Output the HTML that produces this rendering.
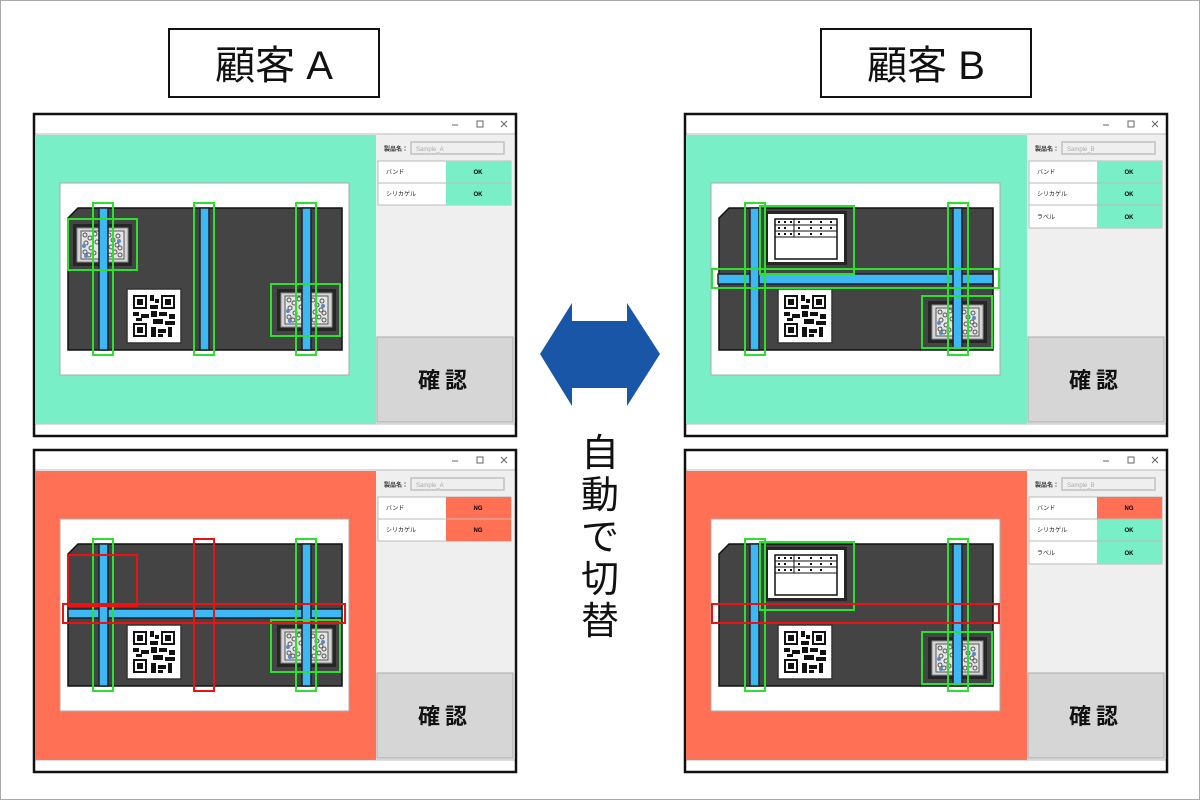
<!DOCTYPE html>
<html><head><meta charset="utf-8">
<style>
html,body{margin:0;padding:0;background:#fff;}
svg{display:block;}
text{font-family:"Liberation Sans","Noto Sans CJK JP",sans-serif;}
</style></head>
<body>
<svg width="1200" height="800" viewBox="0 0 1200 800" xmlns="http://www.w3.org/2000/svg">
<defs>
  <g id="packet">
    <rect x="0" y="0" width="59" height="42" fill="#262626"/>
    <rect x="4" y="4" width="51" height="34" fill="#d6d6d6" stroke="#888" stroke-width="1"/>
    <rect x="8" y="7" width="43" height="28" fill="#e6e6e6" stroke="#555" stroke-width="1"/>
    <g fill="none" stroke="#555" stroke-width="1">
      <circle cx="12" cy="11" r="2"/><circle cx="17" cy="14" r="2"/><circle cx="13" cy="19" r="2"/><circle cx="18" cy="24" r="2"/><circle cx="12" cy="28" r="2"/><circle cx="16" cy="31" r="2"/>
      <circle cx="22" cy="10" r="2"/><circle cx="24" cy="18" r="2"/><circle cx="21" cy="29" r="2"/>
      <circle cx="36" cy="11" r="2"/><circle cx="40" cy="16" r="2"/><circle cx="45" cy="12" r="2"/><circle cx="38" cy="23" r="2"/><circle cx="44" cy="21" r="2"/><circle cx="42" cy="28" r="2"/><circle cx="47" cy="31" r="2"/><circle cx="37" cy="31" r="2"/><circle cx="47" cy="24" r="2"/>
    </g>
    <circle cx="11" cy="22" r="2" fill="#5a8ac8"/><circle cx="46" cy="17" r="2" fill="#5a8ac8"/><circle cx="13" cy="32" r="2" fill="#5a8ac8"/>
  </g>
  <g id="qr">
    <rect x="0" y="0" width="54" height="54" fill="#fff" stroke="#333" stroke-width="1.5"/>
    <g fill="#111">
      <rect x="6" y="6" width="14" height="14"/><rect x="34" y="6" width="14" height="14"/><rect x="6" y="34" width="14" height="14"/>
      <rect x="23" y="6" width="4" height="6"/><rect x="28" y="10" width="4" height="4"/><rect x="23" y="16" width="8" height="4"/>
      <rect x="6" y="23" width="6" height="4"/><rect x="14" y="25" width="8" height="4"/><rect x="24" y="22" width="6" height="6"/><rect x="32" y="23" width="8" height="4"/><rect x="42" y="25" width="6" height="5"/>
      <rect x="9" y="29" width="6" height="3"/><rect x="26" y="30" width="10" height="5"/><rect x="38" y="32" width="10" height="4"/>
      <rect x="24" y="38" width="5" height="10"/><rect x="31" y="40" width="8" height="4"/><rect x="41" y="38" width="4" height="10"/><rect x="31" y="45" width="5" height="3"/>
    </g>
    <g fill="#fff"><rect x="8" y="8" width="10" height="10"/><rect x="36" y="8" width="10" height="10"/><rect x="8" y="36" width="10" height="10"/></g>
    <g fill="#111"><rect x="10" y="10" width="6" height="6"/><rect x="38" y="10" width="6" height="6"/><rect x="10" y="38" width="6" height="6"/></g>
  </g>
  <g id="label">
    <rect x="0" y="0" width="82" height="54" fill="#262626"/>
    <rect x="3" y="3" width="76" height="48" fill="#fff"/>
    <rect x="10" y="8" width="62" height="40" fill="#fff" stroke="#111" stroke-width="1.5"/>
    <g stroke="#111" stroke-width="1"><line x1="10" y1="14" x2="72" y2="14"/><line x1="10" y1="20" x2="72" y2="20"/><line x1="10" y1="26" x2="72" y2="26"/><line x1="29" y1="8" x2="29" y2="26"/></g>
    <g fill="#111"><rect x="13" y="10" width="2" height="2"/><rect x="19" y="10" width="2" height="2"/><rect x="25" y="10" width="2" height="2"/><rect x="33" y="10" width="2" height="2"/><rect x="45" y="10" width="2" height="2"/><rect x="55" y="10" width="2" height="2"/><rect x="65" y="10" width="2" height="2"/>
    <rect x="13" y="16" width="2" height="2"/><rect x="19" y="16" width="2" height="2"/><rect x="33" y="16" width="2" height="2"/><rect x="45" y="16" width="2" height="2"/><rect x="55" y="16" width="2" height="2"/><rect x="65" y="16" width="2" height="2"/>
    <rect x="13" y="22" width="2" height="2"/><rect x="19" y="22" width="2" height="2"/><rect x="25" y="22" width="2" height="2"/><rect x="33" y="22" width="2" height="2"/><rect x="45" y="22" width="2" height="2"/><rect x="55" y="22" width="2" height="2"/></g>
  </g>
  <g id="vbar"><rect x="0" y="0" width="9" height="142" fill="#3db8f5" stroke="#222" stroke-width="1.5"/></g>
  <g id="winframe">
    <rect x="0" y="0" width="482" height="322" fill="#fff"/>
    <rect x="342" y="20" width="138" height="290" fill="#efefef"/>
    <line x1="1" y1="20" x2="481" y2="20" stroke="#bbb" stroke-width="1"/>
    <line x1="1" y1="310" x2="481" y2="310" stroke="#bbb" stroke-width="1"/>
    <line x1="418" y1="11" x2="424" y2="11" stroke="#666"/>
    <rect x="443" y="7" width="6" height="6" fill="none" stroke="#666"/>
    <path d="M467 7 L473 13 M473 7 L467 13" stroke="#666"/>
    <text x="350" y="37" font-size="6" font-weight="bold" fill="#333">製品名：</text>
    <rect x="377" y="28" width="93" height="12" fill="#efefef" stroke="#aaa"/>
    <rect x="343" y="223" width="136" height="85" fill="#d6d6d6" stroke="#aaa"/>
    <text x="411" y="274" font-size="22" font-weight="bold" text-anchor="middle" fill="#111" letter-spacing="5">確認</text>
    <rect x="0" y="0" width="482" height="322" fill="none" stroke="#111" stroke-width="2.5"/>
  </g>
</defs>

<rect x="0.5" y="0.5" width="1199" height="799" fill="#fff" stroke="#aaa"/>

<rect x="169" y="29" width="210" height="68" fill="#fff" stroke="#111" stroke-width="2"/>
<text x="274" y="79" font-size="40" text-anchor="middle" fill="#111">顧客 A</text>
<rect x="821" y="29" width="210" height="68" fill="#fff" stroke="#111" stroke-width="2"/>
<text x="926" y="79" font-size="40" text-anchor="middle" fill="#111">顧客 B</text>

<path d="M540 354 L572 303 L572 321 L627 321 L627 303 L660 354 L627 406 L627 388 L572 388 L572 406 Z" fill="#1a56a8"/>
<g font-size="38" fill="#111" text-anchor="middle">
<text x="600" y="466">自</text><text x="600" y="508">動</text><text x="600" y="550">で</text><text x="600" y="592">切</text><text x="600" y="634">替</text>
</g>

<g transform="translate(34,114)">
  <use href="#winframe"/>
  <rect x="1" y="21" width="341" height="289" fill="#78efc6"/>
  <rect x="26" y="69" width="289" height="192" fill="#fff" stroke="#aaa"/>
  <path d="M44 94 L308 94 L308 236 L34 236 L34 104 Z" fill="#444" stroke="#111" stroke-width="1.5"/>
  <use href="#packet" transform="translate(39,110)"/>
  <use href="#packet" transform="translate(243,175)"/>
  <use href="#qr" transform="translate(93,175)"/>
  <use href="#vbar" transform="translate(65,94)"/>
  <use href="#vbar" transform="translate(166,94)"/>
  <use href="#vbar" transform="translate(268,94)"/>
  <g fill="none" stroke="#2ee02e" stroke-width="2">
    <rect x="59" y="89" width="20" height="152"/><rect x="160" y="89" width="20" height="152"/><rect x="262" y="89" width="20" height="152"/>
    <rect x="34" y="105" width="69" height="51"/><rect x="237" y="170" width="69" height="52"/>
  </g>
  <rect x="344" y="47" width="133" height="44" fill="#fff" stroke="#bbb"/>
  <rect x="412" y="47" width="65" height="44" fill="#78efc6"/>
  <line x1="344" y1="69" x2="477" y2="69" stroke="#bbb"/>
  <text x="352" y="60" font-size="6" fill="#222">バンド</text><text x="352" y="82" font-size="6" fill="#222">シリカゲル</text>
  <text x="444" y="60" font-size="6" font-weight="bold" text-anchor="middle">OK</text><text x="444" y="82" font-size="6" font-weight="bold" text-anchor="middle">OK</text>
  <text x="382" y="37" font-size="6" fill="#aaa">Sample_A</text>
</g>

<g transform="translate(34,450)">
  <use href="#winframe"/>
  <rect x="1" y="21" width="341" height="289" fill="#ff7055"/>
  <rect x="26" y="69" width="289" height="192" fill="#fff" stroke="#aaa"/>
  <path d="M44 94 L308 94 L308 236 L34 236 L34 104 Z" fill="#444" stroke="#111" stroke-width="1.5"/>
  <use href="#packet" transform="translate(243,175)"/>
  <use href="#qr" transform="translate(93,175)"/>
  <rect x="34" y="159" width="274" height="9" fill="#3db8f5" stroke="#222" stroke-width="1.5"/>
  <use href="#vbar" transform="translate(65,94)"/>
  <use href="#vbar" transform="translate(268,94)"/>
  <g fill="none" stroke="#2ee02e" stroke-width="2">
    <rect x="59" y="89" width="20" height="152"/><rect x="262" y="89" width="20" height="152"/>
    <rect x="237" y="170" width="69" height="52"/>
  </g>
  <g fill="none" stroke="#ee1111" stroke-width="2">
    <rect x="34" y="105" width="69" height="51"/><rect x="160" y="89" width="20" height="152"/><rect x="29" y="154" width="282" height="19"/>
  </g>
  <rect x="344" y="47" width="133" height="44" fill="#fff" stroke="#bbb"/>
  <rect x="412" y="47" width="65" height="44" fill="#ff7055"/>
  <line x1="344" y1="69" x2="477" y2="69" stroke="#bbb"/>
  <text x="352" y="60" font-size="6" fill="#222">バンド</text><text x="352" y="82" font-size="6" fill="#222">シリカゲル</text>
  <text x="444" y="60" font-size="6" font-weight="bold" text-anchor="middle">NG</text><text x="444" y="82" font-size="6" font-weight="bold" text-anchor="middle">NG</text>
  <text x="382" y="37" font-size="6" fill="#aaa">Sample_A</text>
</g>

<g transform="translate(685,114)">
  <use href="#winframe"/>
  <rect x="1" y="21" width="341" height="289" fill="#78efc6"/>
  <rect x="26" y="69" width="289" height="192" fill="#fff" stroke="#aaa"/>
  <path d="M44 94 L308 94 L308 236 L34 236 L34 104 Z" fill="#444" stroke="#111" stroke-width="1.5"/>
  <use href="#label" transform="translate(80,97)"/>
  <use href="#qr" transform="translate(93,175)"/>
  <use href="#packet" transform="translate(243,187)"/>
  <rect x="33" y="160" width="275" height="10" fill="#3db8f5" stroke="#222" stroke-width="1.5"/>
  <use href="#vbar" transform="translate(65,94)"/>
  <use href="#vbar" transform="translate(268,94)"/>
  <g fill="none" stroke="#2ee02e" stroke-width="2">
    <rect x="60" y="89" width="20" height="152"/><rect x="263" y="89" width="20" height="152"/>
    <rect x="75" y="92" width="94" height="68"/><rect x="27" y="155" width="287" height="19"/><rect x="237" y="182" width="70" height="52"/>
  </g>
  <rect x="344" y="47" width="133" height="67" fill="#fff" stroke="#bbb"/>
  <rect x="412" y="47" width="65" height="67" fill="#78efc6"/>
  <line x1="344" y1="69" x2="477" y2="69" stroke="#bbb"/><line x1="344" y1="91" x2="477" y2="91" stroke="#bbb"/>
  <text x="352" y="60" font-size="6" fill="#222">バンド</text><text x="352" y="82" font-size="6" fill="#222">シリカゲル</text><text x="352" y="105" font-size="6" fill="#222">ラベル</text>
  <text x="444" y="60" font-size="6" font-weight="bold" text-anchor="middle">OK</text><text x="444" y="82" font-size="6" font-weight="bold" text-anchor="middle">OK</text><text x="444" y="105" font-size="6" font-weight="bold" text-anchor="middle">OK</text>
  <text x="382" y="37" font-size="6" fill="#aaa">Sample_B</text>
</g>

<g transform="translate(685,450)">
  <use href="#winframe"/>
  <rect x="1" y="21" width="341" height="289" fill="#ff7055"/>
  <rect x="26" y="69" width="289" height="192" fill="#fff" stroke="#aaa"/>
  <path d="M44 94 L308 94 L308 236 L34 236 L34 104 Z" fill="#444" stroke="#111" stroke-width="1.5"/>
  <use href="#label" transform="translate(80,97)"/>
  <use href="#qr" transform="translate(93,175)"/>
  <use href="#packet" transform="translate(243,187)"/>
  <use href="#vbar" transform="translate(65,94)"/>
  <use href="#vbar" transform="translate(268,94)"/>
  <g fill="none" stroke="#2ee02e" stroke-width="2">
    <rect x="60" y="89" width="20" height="152"/><rect x="263" y="89" width="20" height="152"/>
    <rect x="75" y="92" width="94" height="68"/><rect x="237" y="182" width="70" height="52"/>
  </g>
  <rect x="27" y="154" width="287" height="19" fill="none" stroke="#ee1111" stroke-width="2"/>
  <rect x="344" y="47" width="133" height="67" fill="#fff" stroke="#bbb"/>
  <rect x="412" y="47" width="65" height="67" fill="#78efc6"/>
  <rect x="412" y="47" width="65" height="22" fill="#ff7055"/>
  <line x1="344" y1="69" x2="477" y2="69" stroke="#bbb"/><line x1="344" y1="91" x2="477" y2="91" stroke="#bbb"/>
  <text x="352" y="60" font-size="6" fill="#222">バンド</text><text x="352" y="82" font-size="6" fill="#222">シリカゲル</text><text x="352" y="105" font-size="6" fill="#222">ラベル</text>
  <text x="444" y="60" font-size="6" font-weight="bold" text-anchor="middle">NG</text><text x="444" y="82" font-size="6" font-weight="bold" text-anchor="middle">OK</text><text x="444" y="105" font-size="6" font-weight="bold" text-anchor="middle">OK</text>
  <text x="382" y="37" font-size="6" fill="#aaa">Sample_B</text>
</g>
</svg>
</body></html>
